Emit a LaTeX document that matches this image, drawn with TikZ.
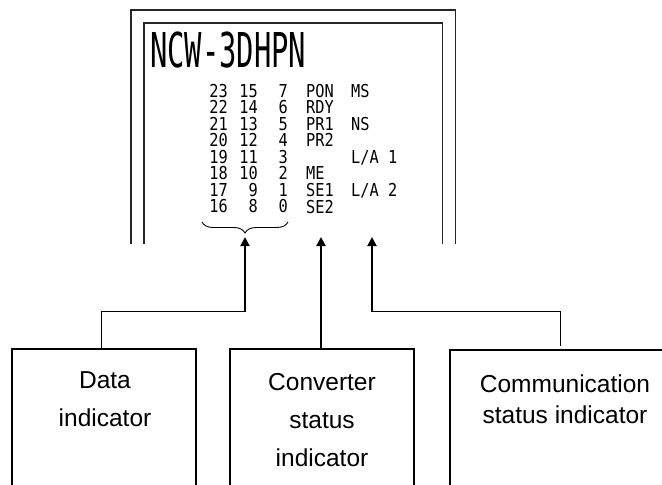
\documentclass[tikz,border=0pt]{standalone}
\usepackage{fontspec}
\setmainfont{Liberation Sans}
\newfontfamily\titlefont[FakeStretch=0.6]{DejaVu Sans Mono}
\newfontfamily\tabfont[FakeStretch=0.86]{DejaVu Sans Mono}
\usetikzlibrary{arrows.meta,decorations.pathreplacing}
\begin{document}
\begin{tikzpicture}[x=1pt,y=-1pt,
  frameline/.style={line width=1.3pt, black!85},
  tab/.style={inner sep=0pt, font=\tabfont\fontsize{17.8}{17.8}\selectfont},
  labelbox/.style={draw, line width=2pt, rectangle, minimum height=151pt, inner sep=0pt},
  boxtext/.style={inner sep=0pt, anchor=base, font=\fontsize{24.5}{24.5}\selectfont},
  thinln/.style={line width=1pt},
  thickln/.style={line width=2pt},
  thickarrow/.style={line width=2pt, -{Triangle[length=9pt,width=9pt]}}
]
\useasboundingbox (0,0) rectangle (662,485);
\clip (0,0) rectangle (662,485);
\fill[white] (0,0) rectangle (662,485);

% panel frames (open at the bottom)
\draw[frameline] (131,244) -- (131,10) -- (455.5,10) -- (455.5,244);
\draw[frameline] (144,244) -- (144,23) -- (442.5,23) -- (442.5,244);

% title
\node[anchor=base west, inner sep=0pt, font=\titlefont\fontsize{48}{48}\selectfont] (title) at (150,67) {NCW-3DHPN};

% digit columns
\foreach \a/\b/\c [count=\i from 0] in {23/15/7,22/14/6,21/13/5,20/12/4,19/11/3,18/10/2,17/9/1,16/8/0}{
  \pgfmathsetmacro\yy{97+16.57*\i}
  \node[tab, anchor=base east] (a\i) at (228,\yy) {\a};
  \node[tab, anchor=base east] (b\i) at (258,\yy) {\b};
  \node[tab, anchor=base east] (c\i) at (288,\yy) {\c};
}
% status column
\node[tab, anchor=base west] (pon) at (306,97) {PON};
\node[tab, anchor=base west] (rdy) at (306,113.57) {RDY};
\node[tab, anchor=base west] (pr1) at (306,130.14) {PR1};
\node[tab, anchor=base west] (pr2) at (306,146.71) {PR2};
\node[tab, anchor=base west] (me)  at (306,179.85) {ME};
\node[tab, anchor=base west] (se1) at (306,196.42) {SE1};
\node[tab, anchor=base west] (se2) at (306,213) {SE2};
% communication column
\node[tab, anchor=base west] (ms)  at (351,97) {MS};
\node[tab, anchor=base west] (ns)  at (351,130.14) {NS};
\node[tab, anchor=base west] (la1) at (351,163.28) {L/A 1};
\node[tab, anchor=base west] (la2) at (351,196.42) {L/A 2};

% brace under the digits
\draw[decorate, decoration={brace, mirror, amplitude=11pt}, line width=0.9pt] (202,222) -- (288,222);

% arrow tips and junctions
\coordinate (dtip) at (245,237);
\coordinate (dj) at (245,311);
\coordinate (ctip) at (321,237);
\coordinate (mtip) at (372,237);
\coordinate (mj) at (372,311);
\coordinate (mend) at (560,346);

% boxes
\node[labelbox, minimum width=184pt] (box1) at (104,424.5) {};
\node[labelbox, minimum width=184pt] (box2) at (322,424.5) {};
\node[labelbox, minimum width=232pt] (box3) at (566,425.5) {};

\node[boxtext] (t1a) at (105,388) {Data};
\node[boxtext] (t1b) at (105,426) {indicator};
\node[boxtext] (t2a) at (322,390) {Converter};
\node[boxtext] (t2b) at (322,428) {status};
\node[boxtext] (t2c) at (322,466) {indicator};
\node[boxtext] (t3a) at (565,392) {Communication};
\node[boxtext] (t3b) at (565,423) {status indicator};

% connectors
\draw[thinln] ([xshift=-3pt]box1.north) |- (dj);
\draw[thickarrow] ([yshift=-1pt]dj) -- (dtip);
\draw[thickarrow] (ctip |- box2.north) -- (ctip);
\draw[thinln] (mj) -| (mend);
\draw[thickarrow] ([yshift=-1pt]mj) -- (mtip);
\end{tikzpicture}
\end{document}
